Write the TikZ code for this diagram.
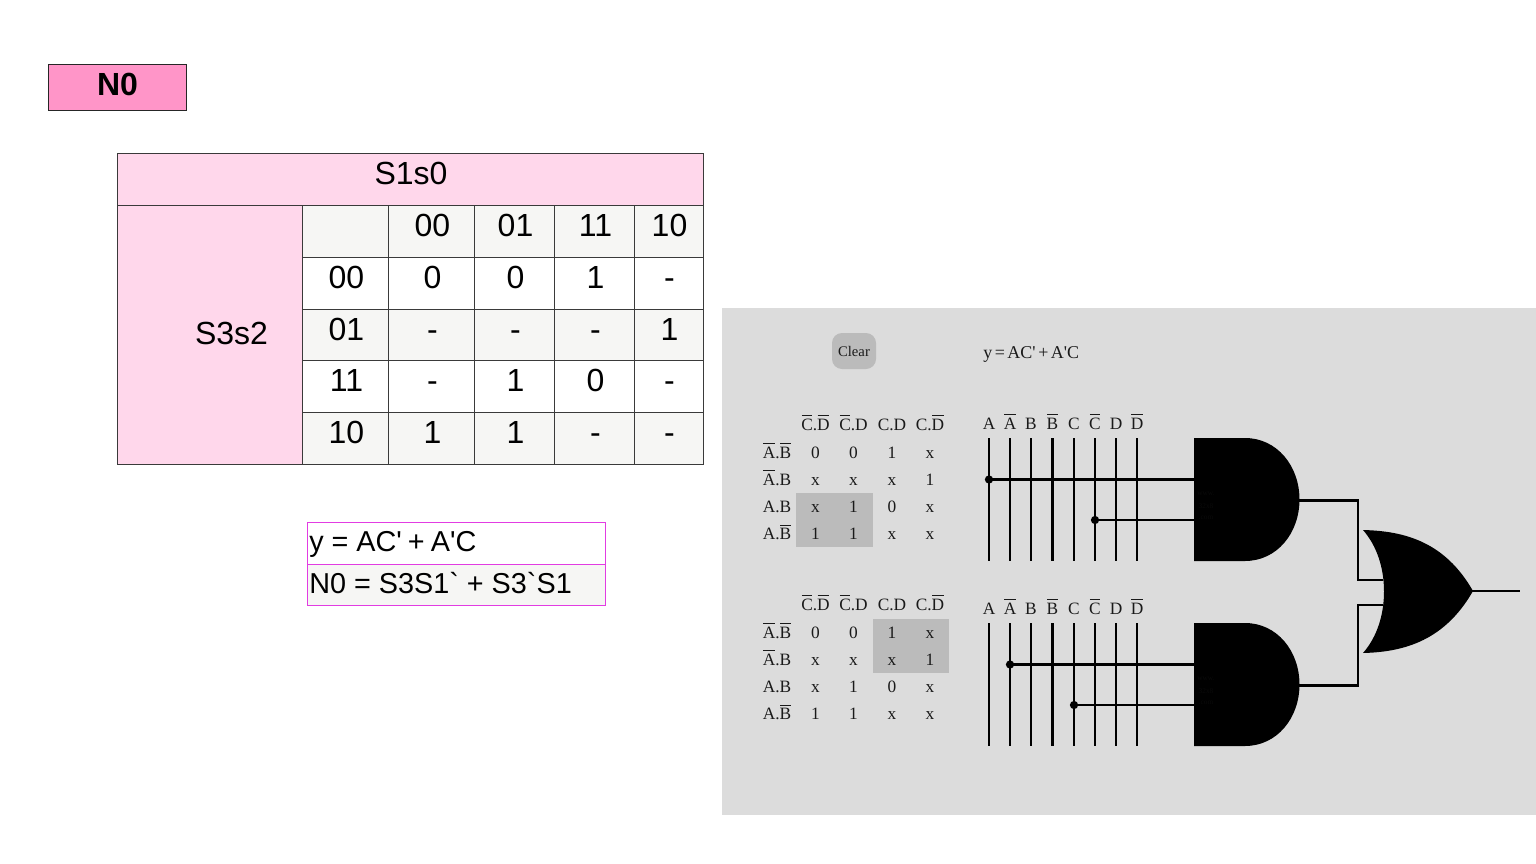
\documentclass[tikz,border=0pt]{standalone}
\usepackage{fontspec}
\newfontfamily\sansf{Liberation Sans}
\newfontfamily\serf{Liberation Serif}
\definecolor{pinkhd}{HTML}{FFD7EB}
\definecolor{pinkbox}{HTML}{FF95C8}
\definecolor{cellgrey}{HTML}{F6F6F4}
\definecolor{panel}{HTML}{DCDCDC}
\definecolor{hilite}{HTML}{BBBBBB}
\definecolor{magline}{HTML}{E23CE2}
\definecolor{gridline}{HTML}{3A3A3A}
\definecolor{serink}{HTML}{1A1A1A}
\newcommand\obb[1]{\leavevmode\setbox0=\hbox{#1}\rlap{\hspace{0.4pt}\raisebox{\dimexpr\ht0+2pt\relax}{\rule{\dimexpr\wd0-0.8pt\relax}{0.7pt}}}\box0}
\tikzset{
  x=0.75pt,y=-0.75pt,
  big/.style={inner sep=0pt,anchor=base,xshift=0.375pt,font=\sansf\fontsize{24}{24}\selectfont,text=black},
  formula/.style={inner sep=0pt,anchor=base west,font=\sansf\fontsize{21.6}{24}\selectfont,text=black},
  small/.style={inner sep=0pt,anchor=base,font=\serf\fontsize{13}{15}\selectfont,text=serink},
  mark text/.style={inner sep=0pt,font=\serf\fontsize{5.5}{6}\selectfont,text=black!96},
  gridl/.style={draw=gridline,line width=0.75pt},
  magl/.style={draw=magline,line width=1.1pt},
  vwire/.style={draw=black,line width=1.5pt},
  hwire/.style={draw=black,line width=1.5pt},
  dotn/.style={circle,fill=black,inner sep=0pt,minimum size=6.2pt},
}
\begin{document}
\begin{tikzpicture}
\useasboundingbox (0,0) rectangle (1536,864);
\fill[white] (0,0) rectangle (1536,864);

% title
\node[draw=black!85,line width=0.7pt,fill=pinkbox,minimum width=103.5pt,minimum height=34.5pt,inner sep=0pt,
  font=\sansf\bfseries\fontsize{24}{24}\selectfont] (title) at (117.5,87) {\raisebox{4.5pt}{N0}};

% K-map table: fills
\fill[pinkhd] (117.5,153.5) rectangle (703.5,205.5);
\fill[pinkhd] (117.5,205.5) rectangle (302.5,464.5);
\fill[cellgrey] (302.5,205.5) rectangle (703.5,257);
\fill[cellgrey] (302.5,309) rectangle (703.5,360.5);
\fill[cellgrey] (302.5,412) rectangle (703.5,464.5);
% grid
\foreach \yy in {205.5,257,309,360.5,412}{
  \ifdim\yy pt=205.5pt \draw[gridl] (117.5,\yy) -- (703.5,\yy);
  \else \draw[gridl] (302.5,\yy) -- (703.5,\yy); \fi}
\foreach \xx in {302.5,388.5,474.5,554.5,634}{\draw[gridl] (\xx,205.5) -- (\xx,464.5);}
\draw[gridl] (117.5,153.5) rectangle (703.5,464.5);

\node[big,xshift=-0.375pt] (hs1) at (411,184) {S1s0};
\node[big] (hs3) at (231,344) {S3s2};
\foreach \t/\xx/\n in {00/432/a,01/515/b,11/595/c,10/669/d}{\node[big] (col\n) at (\xx,236.5) {\t};}
\foreach \t/\yy/\n in {00/288.5/a,01/340.5/b,11/391.5/c,10/443.5/d}{\node[big] (row\n) at (346,\yy) {\t};}
\foreach \yy/\p/\q/\r/\s/\n in {288.5/0/0/1/-/a,340.5/-/-/-/1/b,391.5/-/1/0/-/c,443.5/1/1/-/-/d}{
  \node[big] (k\n1) at (432,\yy) {\p};
  \node[big] (k\n2) at (515,\yy) {\q};
  \node[big] (k\n3) at (595,\yy) {\r};
  \node[big] (k\n4) at (669,\yy) {\s};
}

% formula table
\fill[cellgrey] (307.5,564.5) rectangle (605.5,605.5);
\node[formula] (f1) at (309,551) {y = AC'\hspace{-1.5pt} + \hspace{-1.5pt}A'C};
\node[formula] (f2) at (309,593) {N0 = S3S1` + S3`S1};

% grey panel
\fill[panel] (722,308) rectangle (1536,814.5);
\node[fill=hilite,rounded corners=7.5pt,minimum width=33pt,minimum height=27pt,inner sep=0pt,
  font=\serf\fontsize{11}{12}\selectfont,text=serink] (clear) at (854,351) {Clear};
\node[inner sep=0pt,anchor=base west,font=\serf\fontsize{13.5}{15}\selectfont,text=serink] (eq) at (983,358)
  {y\hspace{1.9pt}=\hspace{1.9pt}AC'\hspace{1.9pt}+\hspace{1.9pt}A'C};

% highlights
\fill[hilite] (796,493) rectangle (873,547);
\fill[hilite] (873,619) rectangle (949,673);

% truth tables
\foreach \off/\n in {0/u,180/l}{
  \node[small] (\n h1) at (815.5,430+\off) {\obb{C}.\obb{D}};
  \node[small] (\n h2) at (853.5,430+\off) {\obb{C}.D};
  \node[small] (\n h3) at (892,430+\off) {C.D};
  \node[small] (\n h4) at (930,430+\off) {C.\obb{D}};
  \node[small] (\n r1) at (777,458+\off) {\obb{A}.\obb{B}};
  \node[small] (\n r2) at (777,485+\off) {\obb{A}.B};
  \node[small] (\n r3) at (777,512.5+\off) {A.B};
  \node[small] (\n r4) at (777,539.5+\off) {A.\obb{B}};
  \foreach \yy/\p/\q/\r/\s/\m in {458/0/0/1/x/a,485.5/x/x/x/1/b,512.5/x/1/0/x/c,539.5/1/1/x/x/d}{
    \node[small] (\n\m1) at (815.5,\yy+\off) {\p};
    \node[small] (\n\m2) at (853.5,\yy+\off) {\q};
    \node[small] (\n\m3) at (892,\yy+\off) {\r};
    \node[small] (\n\m4) at (930,\yy+\off) {\s};
  }
}

% input rails
\foreach \off/\n in {0/u,185/l}{
  \foreach \xx/\t/\m/\w in {989/A/a/1.5pt,1010/\obb{A}/b/1.5pt,1031/B/c/1.5pt,1052.5/\obb{B}/d/2.1pt,1074/C/e/1.5pt,1095/\obb{C}/f/1.5pt,1116/D/g/1.5pt,1137/\obb{D}/h/1.5pt}{
    \node[small] (\n l\m) at (\xx,429+\off) {\t};
    \coordinate (\n t\m) at (\xx,438+\off);
    \coordinate (\n b\m) at (\xx,560.5+\off);
    \draw[vwire,line width=\w] (\n t\m) -- (\n b\m);
  }
  % AND gate
  \fill[black] (1194,438+\off) -- (1245,438+\off)
    .. controls (1277,438+\off) and (1299.5,466+\off) .. (1299.5,499.5+\off)
    .. controls (1299.5,533+\off) and (1277,561+\off) .. (1245,561+\off)
    -- (1194,561+\off) -- cycle;
  \coordinate (\n in1) at (1194,479.5+\off);
  \coordinate (\n in2) at (1194,520+\off);
  \coordinate (\n out) at (1299,500.5+\off);
  \node[mark text] (\n w1) at (1206,494+\off) {www.};
  \node[mark text] (\n w2) at (1206,506+\off) {32x8};
  \node[mark text] (\n w3) at (1206,518+\off) {.com};
}
\node[dotn] (d1) at (989,479.5) {};
\node[dotn] (d2) at (1095,520) {};
\node[dotn] (d3) at (1010,664.5) {};
\node[dotn] (d4) at (1074,705) {};
\draw[hwire,line width=2.1pt] (d1.center) -- (uin1);
\draw[hwire] (d2.center) -- (uin2);
\draw[hwire,line width=2.1pt] (d3.center) -- (lin1);
\draw[hwire] (d4.center) -- (lin2);

% OR gate
\fill[black] (1363,530) .. controls (1405,531) and (1445,542) .. (1473,591)
  .. controls (1445,640) and (1405,652) .. (1363,653)
  .. controls (1377,637) and (1384,615) .. (1384,591.5)
  .. controls (1384,568) and (1377,546) .. (1363,530) -- cycle;
\coordinate (oin1) at (1383,580);
\coordinate (oin2) at (1383,605);
\coordinate (oout) at (1472,591);
\coordinate (oend) at (1520,591);
\coordinate (bend1) at (1358,500.5);
\coordinate (bend2) at (1358,685.5);
\draw[hwire,line width=1.9pt,line join=miter] (uout) -- (bend1) |- (oin1);
\draw[hwire,line width=1.9pt,line join=miter] (lout) -- (bend2) |- (oin2);
\draw[hwire,line width=1.9pt] (oout) -- (oend);

% formula table border, last
\draw[magl] (307.5,522.5) -- (605.5,522.5) -- (605.5,605.5) -- (307.5,605.5) -- cycle;
\draw[magl] (307.5,564.5) -- (605.5,564.5);
\end{tikzpicture}
\end{document}
